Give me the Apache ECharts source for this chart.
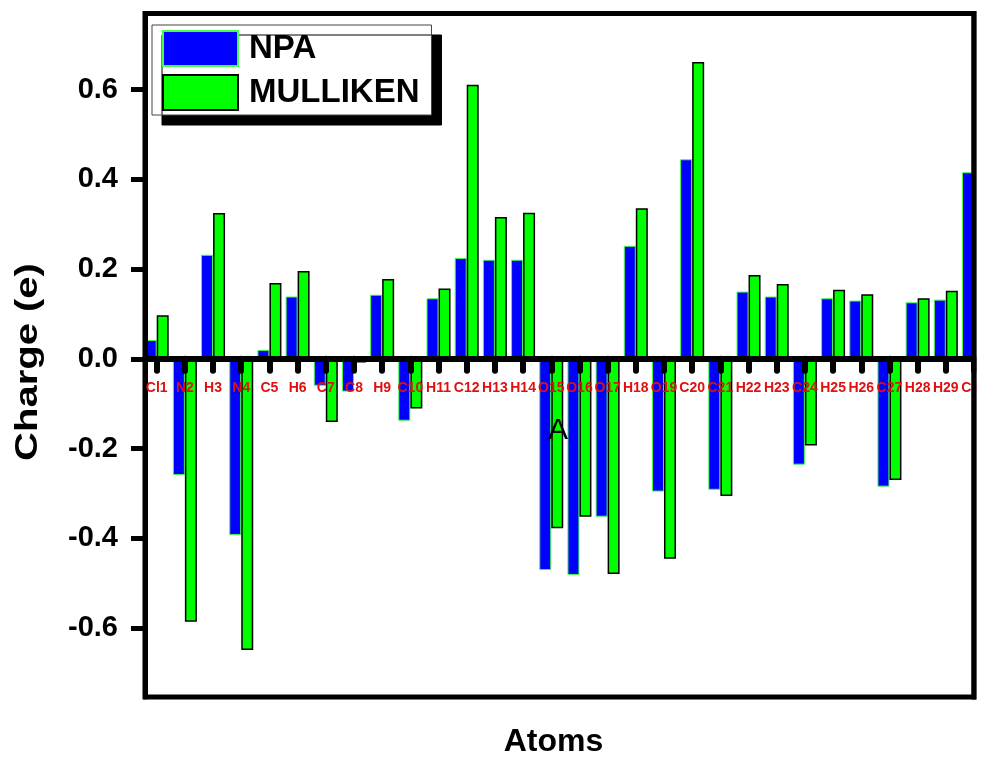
<!DOCTYPE html>
<html>
<head>
<meta charset="utf-8">
<script src="https://cdn.jsdelivr.net/npm/echarts@6/dist/echarts.min.js"></script>
<style>html,body{margin:0;padding:0;background:#fff;}#chart{width:984px;height:757px;}</style>
</head>
<body>
<div id="chart"></div>
<script>
// ---- data ----
var categories = ['Cl1','N2','H3','N4','C5','H6','C7','C8','H9','C10','H11','C12','H13','H14','O15','O16','O17','H18','O19','C20','C21','H22','H23','C24','H25','H26','C27','H28','H29','C30'];
var npa = [0.042,-0.259,0.232,-0.393,0.020,0.139,-0.060,-0.073,0.143,-0.138,0.135,0.225,0.221,0.221,-0.471,-0.482,-0.352,0.252,-0.296,0.445,-0.292,0.150,0.139,-0.236,0.135,0.130,-0.285,0.126,0.132,0.416];
var mulliken = [0.097,-0.586,0.325,-0.649,0.169,0.196,-0.141,-0.008,0.178,-0.111,0.157,0.611,0.316,0.326,-0.378,-0.352,-0.480,0.336,-0.446,0.662,-0.306,0.187,0.167,-0.193,0.154,0.144,-0.270,0.135,0.152,null];
var yTicks = [-0.6,-0.4,-0.2,0.0,0.2,0.4,0.6];
var seriesNames = ['NPA','MULLIKEN'];

// ---- layout ----
var FONT = "'Liberation Sans', Arial, Helvetica, sans-serif";
var GL = 145, GR = 974, GT = 13.5, GB = 697;
var YMIN = -0.754, YMAX = 0.770;
var zeroOffset = -(0 - YMIN) / (YMAX - YMIN) * (GB - GT);
var idx = categories.map(function(_, i){ return i; });

var chart = echarts.init(document.getElementById('chart'), null, {renderer:'canvas'});
var option = {
  backgroundColor: '#ffffff',
  animation: false,
  grid: {left: GL, top: GT, width: GR - GL, height: GB - GT, outerBoundsMode: 'none', containLabel: false,
    show: true, borderColor: '#000', borderWidth: 5, backgroundColor: 'transparent'},
  legend: {
    orient: 'vertical', left: 152, top: 25,
    data: seriesNames,
    itemWidth: 75, itemHeight: 35, itemGap: 7,
    padding: [5, 12, 4, 10],
    backgroundColor: '#fff', borderColor: '#444', borderWidth: 1,
    shadowColor: '#000', shadowBlur: 0, shadowOffsetX: 10, shadowOffsetY: 10,
    icon: 'rect',
    textStyle: {fontFamily: FONT, fontSize: 33, fontWeight: 'bold', color: '#000', padding: [0,0,0,6]}
  },
  xAxis: {
    type: 'value', min: -0.415, max: 29.0, position: 'bottom', offset: zeroOffset, z: 10,
    axisLine: {show: true, onZero: false, lineStyle: {color: '#000', width: 6}},
    axisTick: {show: true, customValues: idx, length: 12, lineStyle: {color: '#000', width: 6, cap: 'round'}},
    axisLabel: {show: true, customValues: idx, margin: 22, color: '#e01010', fontFamily: FONT, fontWeight: 'bold', fontSize: 14,
      hideOverlap: false,
      formatter: function(v){ return categories[Math.round(v)] || ''; }},
    splitLine: {show: false}
  },
  yAxis: {
    type: 'value', min: YMIN, max: YMAX, z: 10,
    axisLine: {show: true, onZero: false, lineStyle: {color: '#000', width: 5}},
    axisTick: {show: true, customValues: yTicks, length: 14, lineStyle: {color: '#000', width: 5}},
    axisLabel: {show: true, customValues: yTicks, margin: 27, color: '#000', fontFamily: FONT, fontWeight: 'bold', fontSize: 29,
      formatter: function(v){ return (Math.abs(v) < 1e-9 ? 0 : v).toFixed(1); }},
    splitLine: {show: false}
  },
  series: [
    {name: seriesNames[0], type: 'bar', barWidth: 12, barGap: '0%', clip: true,
     itemStyle: {color: '#0000ff', borderColor: '#44ff44', borderWidth: 1},
     data: npa.map(function(v, i){ return [i, v]; })},
    {name: seriesNames[1], type: 'bar', barWidth: 12, barGap: '0%', clip: true,
     itemStyle: {color: '#00ff00', borderColor: '#000', borderWidth: 1.5},
     data: mulliken.map(function(v, i){ return [i, v]; })}
  ],
  graphic: [
    {type: 'rect', z: 100, shape: {x: GR + 2.5, y: 0, width: 984 - GR, height: 757}, style: {fill: '#fff'}},
    {type: 'rect', z: 101, shape: {x: GR - 2.5, y: GT - 2.5, width: 5, height: GB - GT + 5}, style: {fill: '#000'}},
    {type: 'text', z: 50, x: (GL + GR) / 2 - 6, y: 742, style: {text: 'Atoms', fontFamily: FONT, fontSize: 32, fontWeight: 'bold', fill: '#000', align: 'center', verticalAlign: 'middle'}},
    {type: 'text', z: 50, x: 28, y: 362, rotation: Math.PI / 2, scaleX: 1.25, style: {text: 'Charge (e)', fontFamily: FONT, fontSize: 32, fontWeight: 'bold', fill: '#000', align: 'center', verticalAlign: 'middle'}},
    {type: 'text', z: 50, x: 558, y: 431, style: {text: 'A', fontFamily: FONT, fontSize: 30, fill: '#000', align: 'center', verticalAlign: 'middle'}}
  ]
};
chart.setOption(option);
</script>
</body>
</html>
